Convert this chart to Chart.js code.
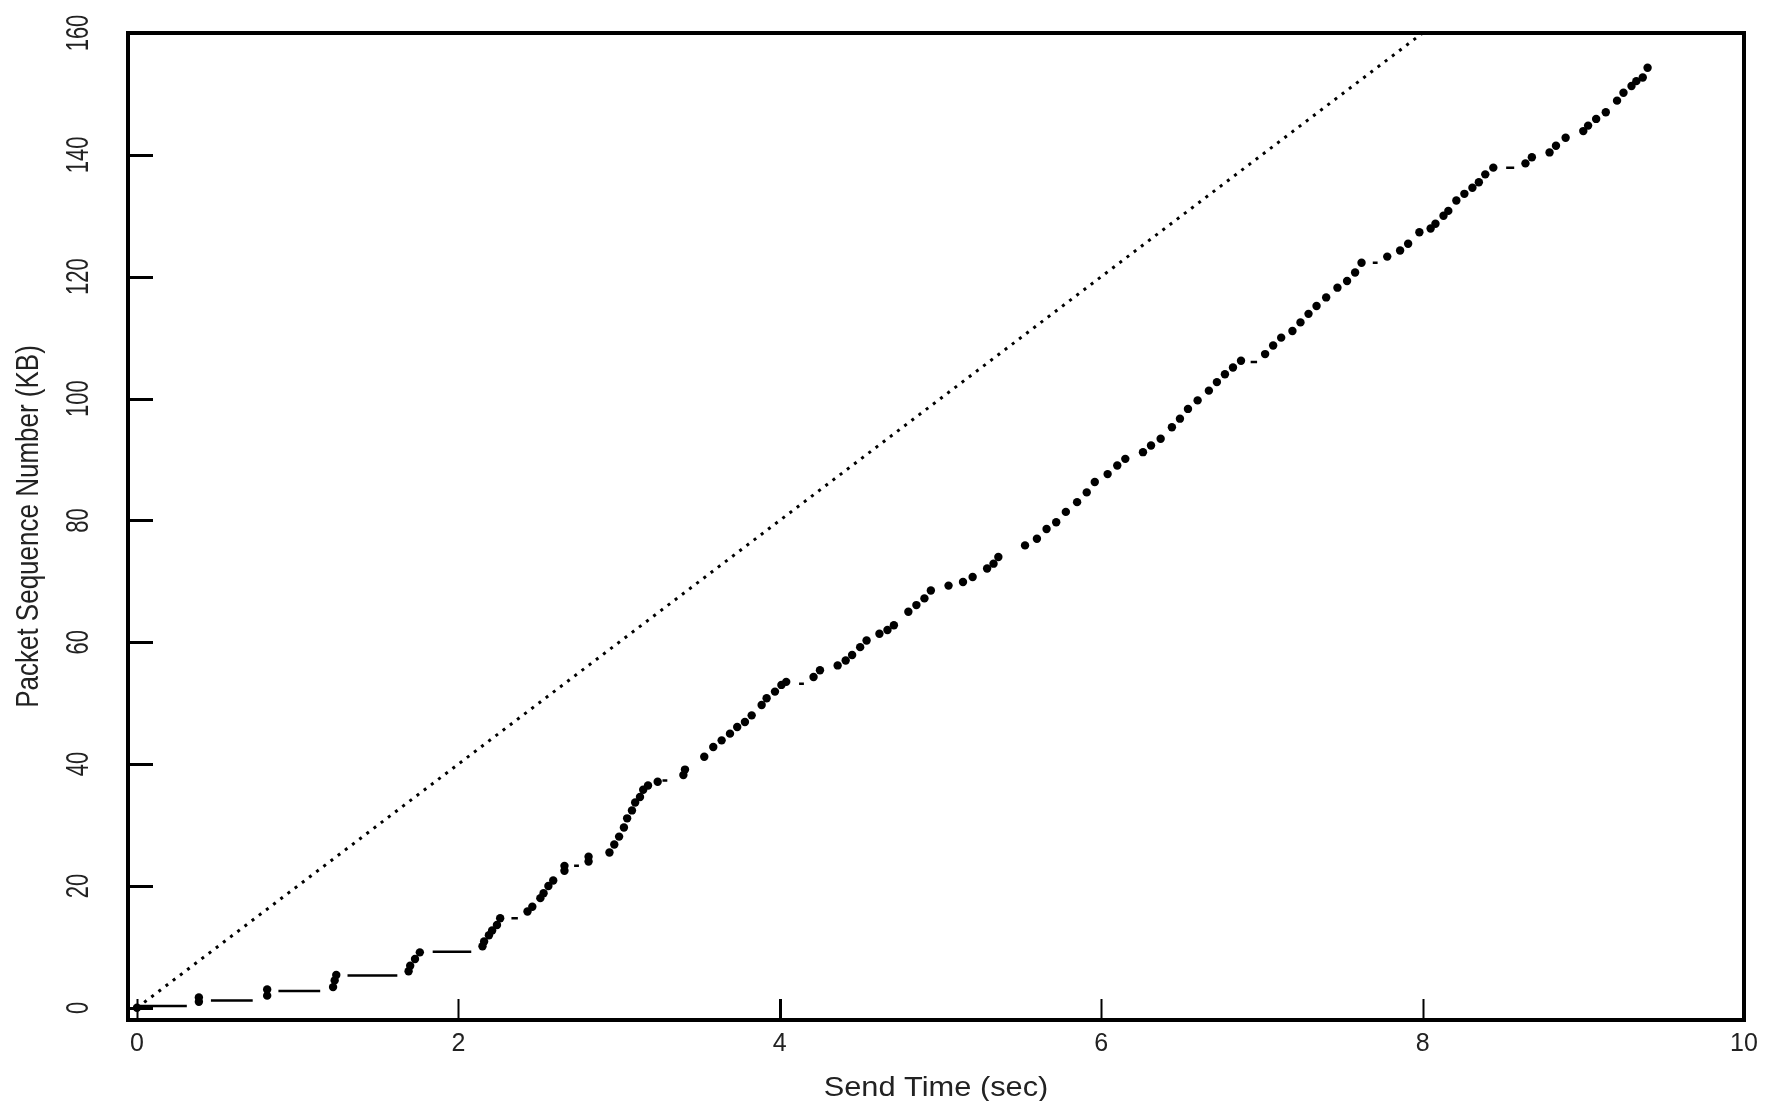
<!DOCTYPE html>
<html>
<head>
<meta charset="utf-8">
<script src="https://cdn.jsdelivr.net/npm/chart.js@4.4.1/dist/chart.umd.min.js"></script>
<style>
  body { margin: 0; background: #fff; }
  #wrap { width: 1777px; height: 1101px; }
</style>
</head>
<body>
<div id="wrap"><canvas id="seq" width="1777" height="1101"></canvas></div>
<script>
// send time (sec) and sequence number (KB) of each packet
var sendTime = [
  0, 0.385, 0.385, 0.81, 0.81, 1.22, 1.23, 1.24,
  1.69, 1.70, 1.73, 1.76, 2.15, 2.16, 2.19, 2.21, 2.24, 2.26,
  2.43, 2.46, 2.51, 2.53, 2.56, 2.59, 2.66, 2.66, 2.81, 2.81,
  2.94, 2.97, 3.00, 3.03, 3.05, 3.08, 3.10, 3.13, 3.15, 3.18, 3.24,
  3.40, 3.41, 3.53, 3.586, 3.638, 3.69, 3.735, 3.783, 3.825, 3.887, 3.918, 3.97, 4.01, 4.04,
  4.21, 4.25, 4.36, 4.41, 4.45, 4.50, 4.54, 4.62, 4.67, 4.71, 4.80, 4.85, 4.90, 4.94,
  5.05, 5.14, 5.20, 5.29, 5.33, 5.36,
  5.526, 5.60, 5.66, 5.72, 5.78, 5.85, 5.91, 5.96, 6.04, 6.10, 6.15, 6.26, 6.31, 6.37,
  6.44, 6.49, 6.54, 6.60, 6.67, 6.72, 6.77, 6.82, 6.87,
  7.02, 7.07, 7.12, 7.19, 7.24, 7.29, 7.34, 7.40, 7.47, 7.53, 7.58, 7.62,
  7.78, 7.86, 7.91, 7.98, 8.05, 8.08, 8.13, 8.16, 8.21, 8.26, 8.31, 8.35, 8.39, 8.44,
  8.64, 8.68, 8.79, 8.83, 8.89, 9.00, 9.03, 9.08, 9.14, 9.21, 9.25, 9.30, 9.33, 9.37, 9.40
];
var seqKB = [
  0, 1.0, 1.7, 2.0, 3.0, 3.4, 4.5, 5.4,
  6.0, 6.9, 8.0, 9.1, 10.1, 10.9, 11.9, 12.7, 13.6, 14.7,
  15.8, 16.6, 18.0, 18.8, 20.0, 20.9, 22.5, 23.3, 24.0, 24.8,
  25.5, 26.8, 28.1, 29.6, 31.1, 32.4, 33.7, 34.6, 35.8, 36.5, 37.1,
  38.2, 39.1, 41.2, 42.8, 43.9, 45.0, 46.1, 46.9, 48.0, 49.7, 50.8, 51.9, 53.0, 53.5,
  54.3, 55.4, 56.2, 57.0, 57.9, 59.2, 60.3, 61.4, 62.0, 62.8, 65.0, 66.1, 67.2, 68.5,
  69.3, 69.9, 70.7, 72.1, 72.9, 74.0,
  75.9, 77.0, 78.6, 79.7, 81.4, 83.0, 84.6, 86.3, 87.6, 89.0, 90.1, 91.2, 92.3, 93.4,
  95.3, 96.7, 98.3, 99.7, 101.3, 102.7, 104.0, 105.1, 106.2,
  107.3, 108.7, 110.0, 111.1, 112.5, 113.9, 115.2, 116.6, 118.2, 119.3, 120.7, 122.3,
  123.3, 124.3, 125.4, 127.3, 127.9, 128.7, 130.0, 130.8, 132.5, 133.6, 134.6, 135.5, 136.8, 137.9,
  138.6, 139.6, 140.4, 141.5, 142.8, 143.9, 144.8, 145.9, 147.0, 148.9, 150.2, 151.3, 152.1, 152.7, 154.3
];

// flat pieces between bursts: start time, end time, level (KB)
var flatStart = [0, 0.46, 0.88, 1.31, 1.84, 2.33, 2.72, 3.27, 4.12, 6.93, 7.69, 8.52];
var flatEnd   = [0.31, 0.72, 1.14, 1.62, 2.08, 2.37, 2.75, 3.30, 4.15, 6.97, 7.72, 8.57];
var flatLevel = [0.3, 1.2, 2.75, 5.3, 9.2, 14.7, 23.3, 37.3, 53.2, 106.0, 122.3, 137.9];

// dotted reference line
var refTime = [0, 8];
var refKB = [0, 160];

var xTicks = [0, 2, 4, 6, 8, 10];
var yTicks = [0, 20, 40, 60, 80, 100, 120, 140, 160];

var FONT = '"Liberation Sans", Arial, Helvetica, sans-serif';
var INK = '#222';


function pairs(xs, ys) {
  var out = [];
  for (var i = 0; i < xs.length; i++) {
    out.push({ x: xs[i], y: ys[i] });
  }
  return out;
}


function flatPieces() {
  var out = [];
  for (var i = 0; i < flatStart.length; i++) {
    out.push({ x: flatStart[i], y: flatLevel[i] });
    out.push({ x: flatEnd[i], y: flatLevel[i] });
    out.push({ x: flatEnd[i], y: null });  // break the line
  }
  return out;
}


// frame, inward ticks, rotated y labels and both titles
var framePlugin = {
  id: 'frame',
  afterDraw: function(chart) {
    var ctx = chart.ctx;
    var area = chart.chartArea;
    var xs = chart.scales.x;
    var ys = chart.scales.y;
    ctx.save();
    ctx.strokeStyle = '#000';

    ctx.lineWidth = 3;
    yTicks.forEach(function(v) {
      if (v === 160) return;
      var py = Math.round(ys.getPixelForValue(v)) + 0.5;
      ctx.beginPath();
      ctx.moveTo(area.left, py);
      ctx.lineTo(area.left + 25, py);
      ctx.stroke();
    });

    xTicks.forEach(function(v) {
      if (v === 10) return;
      var px = Math.round(xs.getPixelForValue(v)) + 0.5;
      ctx.lineWidth = (v === 4) ? 3 : 2;
      ctx.beginPath();
      ctx.moveTo(px, area.bottom);
      ctx.lineTo(px, area.bottom - 21);
      ctx.stroke();
    });

    ctx.lineWidth = 4;
    ctx.strokeRect(area.left, area.top, area.right - area.left, area.bottom - area.top);

    ctx.fillStyle = INK;
    ctx.textAlign = 'center';
    ctx.textBaseline = 'alphabetic';

    ctx.font = '22px ' + FONT;
    yTicks.forEach(function(v) {
      ctx.save();
      ctx.translate(88, ys.getPixelForValue(v));
      ctx.rotate(-Math.PI / 2);
      ctx.scale(1, 1.4);
      ctx.fillText(String(v), 0, 0);
      ctx.restore();
    });

    ctx.font = '26px ' + FONT;
    ctx.save();
    ctx.translate(38, (area.top + area.bottom) / 2);
    ctx.rotate(-Math.PI / 2);
    ctx.scale(1, 1.23);
    ctx.fillText('Packet Sequence Number (KB)', 0, 0);
    ctx.restore();

    ctx.font = '27px ' + FONT;
    ctx.save();
    ctx.translate((area.left + area.right) / 2, 1096);
    ctx.scale(1.14, 1);
    ctx.fillText('Send Time (sec)', 0, 0);
    ctx.restore();

    ctx.restore();
  }
};


document.addEventListener('DOMContentLoaded', function() {
  new Chart(document.getElementById('seq'), {
    type: 'scatter',
    data: {
      datasets: [{
        label: 'reference',
        data: pairs(refTime, refKB),
        showLine: true,
        borderColor: '#000',
        borderWidth: 3,
        borderDash: [3, 6],
        pointRadius: 0
      }, {
        label: 'flat',
        data: flatPieces(),
        showLine: true,
        spanGaps: false,
        borderColor: '#000',
        borderWidth: 2.5,
        pointRadius: 0
      }, {
        label: 'packets',
        data: pairs(sendTime, seqKB),
        showLine: false,
        pointRadius: 4.2,
        pointBackgroundColor: '#000',
        pointBorderColor: '#000',
        pointBorderWidth: 0
      }]
    },
    options: {
      responsive: false,
      animation: false,
      events: [],
      layout: {
        padding: { left: 0, top: 33, right: 33, bottom: 0 }
      },
      plugins: {
        legend: { display: false },
        tooltip: { enabled: false }
      },
      scales: {
        x: {
          type: 'linear',
          min: -0.056,
          max: 10,
          afterBuildTicks: function(scale) {
            scale.ticks = xTicks.map(function(v) { return { value: v }; });
          },
          afterFit: function(scale) { scale.height = 81; },
          grid: { display: false, drawTicks: false },
          border: { display: false },
          ticks: {
            color: INK,
            padding: 9,
            maxRotation: 0,
            font: { family: FONT, size: 25 }
          }
        },
        y: {
          type: 'linear',
          min: -2,
          max: 160,
          afterBuildTicks: function(scale) {
            scale.ticks = yTicks.map(function(v) { return { value: v }; });
          },
          afterFit: function(scale) { scale.width = 128; },
          grid: { display: false, drawTicks: false },
          border: { display: false },
          ticks: { display: false }
        }
      }
    },
    plugins: [framePlugin]
  });
});
</script>
</body>
</html>
